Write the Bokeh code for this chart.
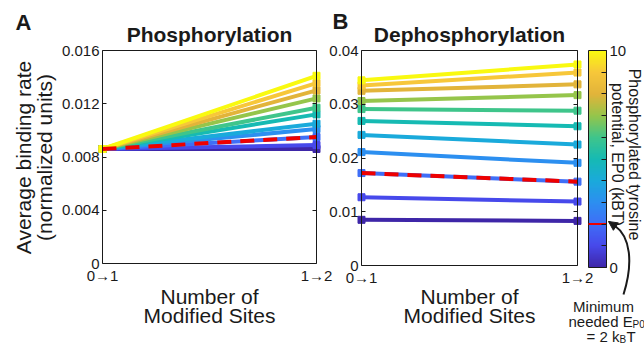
import numpy as np
from bokeh.plotting import figure
from bokeh.models import (FixedTicker, LinearAxis, Range1d, Arrow, NormalHead,
                          LinearColorMapper)
from bokeh.core.properties import value
from bokeh.embed import file_html
from bokeh.resources import INLINE

# ---------------- data ----------------
sites = [0, 1]
site_labels = ["0\u21921", "1\u21922"]
ep0 = [0, 1, 2, 3, 4, 5, 6, 7, 8, 9, 10]
ep0_min = 2

phos_start = [0.0086] * 11
phos_end = [0.0086, 0.0089, 0.0095, 0.0101, 0.0105, 0.0112, 0.0117, 0.0124, 0.0130, 0.01355, 0.0141]

dephos_start = [0.0085, 0.0127, 0.0172, 0.0211, 0.0243, 0.0269, 0.0291, 0.0306, 0.0325, 0.0335, 0.03445]
dephos_end = [0.0083, 0.0119, 0.0156, 0.0191, 0.0225, 0.0259, 0.0288, 0.0317, 0.0337, 0.0359, 0.0374]

a_ticks = [0, 0.004, 0.008, 0.012, 0.016]
a_tick_labels = ["0", "0.004", "0.008", "0.012", "0.016"]
b_ticks = [0, 0.01, 0.02, 0.03, 0.04]
b_tick_labels = ["0", "0.01", "0.02", "0.03", "0.04"]
cb_major = [0, 10]
cb_minor = [1, 2, 3, 4, 5, 6, 7, 8, 9]

# parula-like colours for EP0 = 0..10
line_colors = ["#3e26a8", "#4749eb", "#3f6ef7", "#2c8ff0", "#1aaadb", "#16bab3",
               "#3fc58b", "#95c54b", "#e2b43a", "#f7c73a", "#f9f910"]

FONT = "Liberation Sans"
RED = "#ee0000"
INK = "#1a1a1a"
W, H = 644, 347
BASE_FIX = 7  # alphabetic baseline correction (px)


def make_palette(anchors, n=256):
    rgb = np.array([[int(h[i:i + 2], 16) for i in (1, 3, 5)] for h in anchors], float)
    t = np.linspace(0, 1, len(anchors))
    out = []
    for v in np.linspace(0, 1, n):
        c = [np.interp(v, t, rgb[:, k]) for k in range(3)]
        out.append("#%02x%02x%02x" % tuple(int(round(x)) for x in c))
    return out


def px_map(p0, v0, p1, v1):
    k = (v1 - v0) / (p1 - p0)
    return lambda p: v0 + (p - p0) * k


# pixel -> data maps for the layout (panel A, panel B, colour bar)
fxa = px_map(102, 0, 316, 1)
fya = px_map(263, 0, 50, 0.016)
fxb = px_map(361, 0, 577, 1)
fyb = px_map(265, 0, 50, 0.04)
fyc = px_map(267, 0, 50, 10)

p = figure(width=W, height=H, min_border=0, toolbar_location=None, output_backend="svg",
           x_axis_location=None, y_axis_location=None,
           x_range=Range1d(fxa(0), fxa(W)), y_range=Range1d(fya(H), fya(0)))
p.extra_x_ranges = {"xb": Range1d(fxb(0), fxb(W))}
p.extra_y_ranges = {"yb": Range1d(fyb(H), fyb(0)), "cb": Range1d(fyc(H), fyc(0))}
p.outline_line_color = None
p.xgrid.visible = False
p.ygrid.visible = False


def add_axis(side, fixed, bounds, ticks, labels=None, minor=None, tick_in=4,
             xr="default", yr="default", show_ticks=True):
    ax = LinearAxis(ticker=FixedTicker(ticks=ticks, minor_ticks=minor or []),
                    fixed_location=fixed, bounds=bounds, x_range_name=xr, y_range_name=yr,
                    axis_line_color=INK, axis_line_width=1,
                    major_tick_in=tick_in, major_tick_out=0,
                    major_tick_line_color=INK if show_ticks else None,
                    minor_tick_in=tick_in, minor_tick_out=0,
                    minor_tick_line_color=INK if minor else None,
                    major_label_text_font=FONT, major_label_text_font_size="15px",
                    major_label_text_color=INK, major_label_standoff=3)
    if labels is None:
        ax.major_label_overrides = {t: "" for t in ticks}
    else:
        ax.major_label_overrides = {t: l for t, l in zip(ticks, labels)}
    p.add_layout(ax, side)
    return ax


def text(fx, fy, px, py, s, size, xr="default", yr="default", align="center",
         baseline="alphabetic", angle=0.0, bold=False):
    if baseline == "alphabetic":
        py = py - BASE_FIX
    p.text(x=[fx(px)], y=[fy(py)], text=[s], text_font=value(FONT), text_font_size=size,
           text_align=align, text_baseline=baseline, angle=angle, text_color=INK,
           text_font_style="bold" if bold else "normal",
           x_range_name=xr, y_range_name=yr)


def panel(xr, yr, ticks, tick_labels, start, end, fx, fy, letter, letter_px, title,
          cx, y_lab):
    top = ticks[-1]
    add_axis("left", 0, (0, top), ticks, tick_labels, xr=xr, yr=yr)
    add_axis("right", 1, (0, top), ticks, None, xr=xr, yr=yr)
    add_axis("below", 0, (0, 1), sites, site_labels, xr=xr, yr=yr, show_ticks=False)
    add_axis("above", top, (0, 1), [], [], xr=xr, yr=yr)
    for i in range(len(ep0)):
        ys = [start[i], end[i]]
        p.line(sites, ys, line_color=line_colors[i], line_width=4,
               x_range_name=xr, y_range_name=yr)
        p.scatter(sites, ys, marker="square", size=7, color=line_colors[i],
                  x_range_name=xr, y_range_name=yr)
    k = ep0.index(ep0_min)
    p.line(sites, [start[k], end[k]], line_color=RED, line_width=4, line_dash="14 9",
           x_range_name=xr, y_range_name=yr)
    text(fx, fy, letter_px[0], letter_px[1], letter, "22px", xr, yr, align="left", bold=True)
    text(fx, fy, cx, 41, title, "21px", xr, yr, bold=True)
    text(fx, fy, cx, 303, "Number of", "21px", xr, yr)
    text(fx, fy, cx, 322, "Modified Sites", "21px", xr, yr)
    if y_lab:
        text(fx, fy, 23, 157, "Average binding rate", "21px", xr, yr, baseline="middle",
             angle=np.pi / 2)
        text(fx, fy, 44, 157, "(normalized units)", "21px", xr, yr, baseline="middle",
             angle=np.pi / 2)


panel("default", "default", a_ticks, a_tick_labels, phos_start, phos_end, fxa, fya,
      "A", (15, 29), "Phosphorylation", 209, True)
panel("xb", "yb", b_ticks, b_tick_labels, dephos_start, dephos_end, fxb, fyb,
      "B", (332, 28), "Dephosphorylation", 469, False)

# ---------------- colour bar ----------------
cb_l, cb_r = fxb(588), fxb(606)
mapper = LinearColorMapper(palette=make_palette(line_colors), low=0, high=10)
p.image(image=[np.linspace(0, 10, 256).reshape(256, 1)], x=cb_l, y=0, dw=cb_r - cb_l, dh=10,
        color_mapper=mapper, x_range_name="xb", y_range_name="cb")
p.quad(left=[cb_l], right=[cb_r], bottom=[0], top=[10], fill_color=None, line_color=INK,
       line_width=1, x_range_name="xb", y_range_name="cb")
add_axis("right", cb_r, (0, 10), cb_major, ["0", "10"], minor=cb_minor, tick_in=5,
         xr="xb", yr="cb")
p.segment(x0=[cb_l], x1=[cb_r], y0=[ep0_min], y1=[ep0_min], line_color=RED, line_width=2,
          x_range_name="xb", y_range_name="cb")

text(fxb, fyc, 634, 154, "Phosphorylated tyrosine", "16px", "xb", "cb", baseline="middle",
     angle=-np.pi / 2)
text(fxb, fyc, 617, 154, "potential, EP0 (kBT)", "16px", "xb", "cb", baseline="middle",
     angle=-np.pi / 2)

# annotation for the minimum EP0
text(fxb, fyc, 603, 313, "Minimum", "15px", "xb", "cb")
text(fxb, fyc, 568, 328, "needed E", "15px", "xb", "cb", align="left")
text(fxb, fyc, 632, 331, "P0", "10px", "xb", "cb", align="left")
text(fxb, fyc, 586, 343, "= 2 k", "15px", "xb", "cb", align="left")
text(fxb, fyc, 619, 346, "B", "10px", "xb", "cb", align="left")
text(fxb, fyc, 626, 343, "T", "15px", "xb", "cb", align="left")

p.bezier(x0=[fxb(623)], y0=[fyc(294)], x1=[fxb(614)], y1=[fyc(225)],
         cx0=[fxb(633)], cy0=[fyc(262)], cx1=[fxb(630)], cy1=[fyc(236)],
         line_color=INK, line_width=2, x_range_name="xb", y_range_name="cb")
p.add_layout(Arrow(end=NormalHead(size=9, fill_color=INK, line_color=INK, line_width=1),
                   x_start=fxb(616), y_start=fyc(226.5), x_end=fxb(608), y_end=fyc(221),
                   line_color=INK, line_width=2, x_range_name="xb", y_range_name="cb"))

open("out.html", "w").write(file_html(p, INLINE))
